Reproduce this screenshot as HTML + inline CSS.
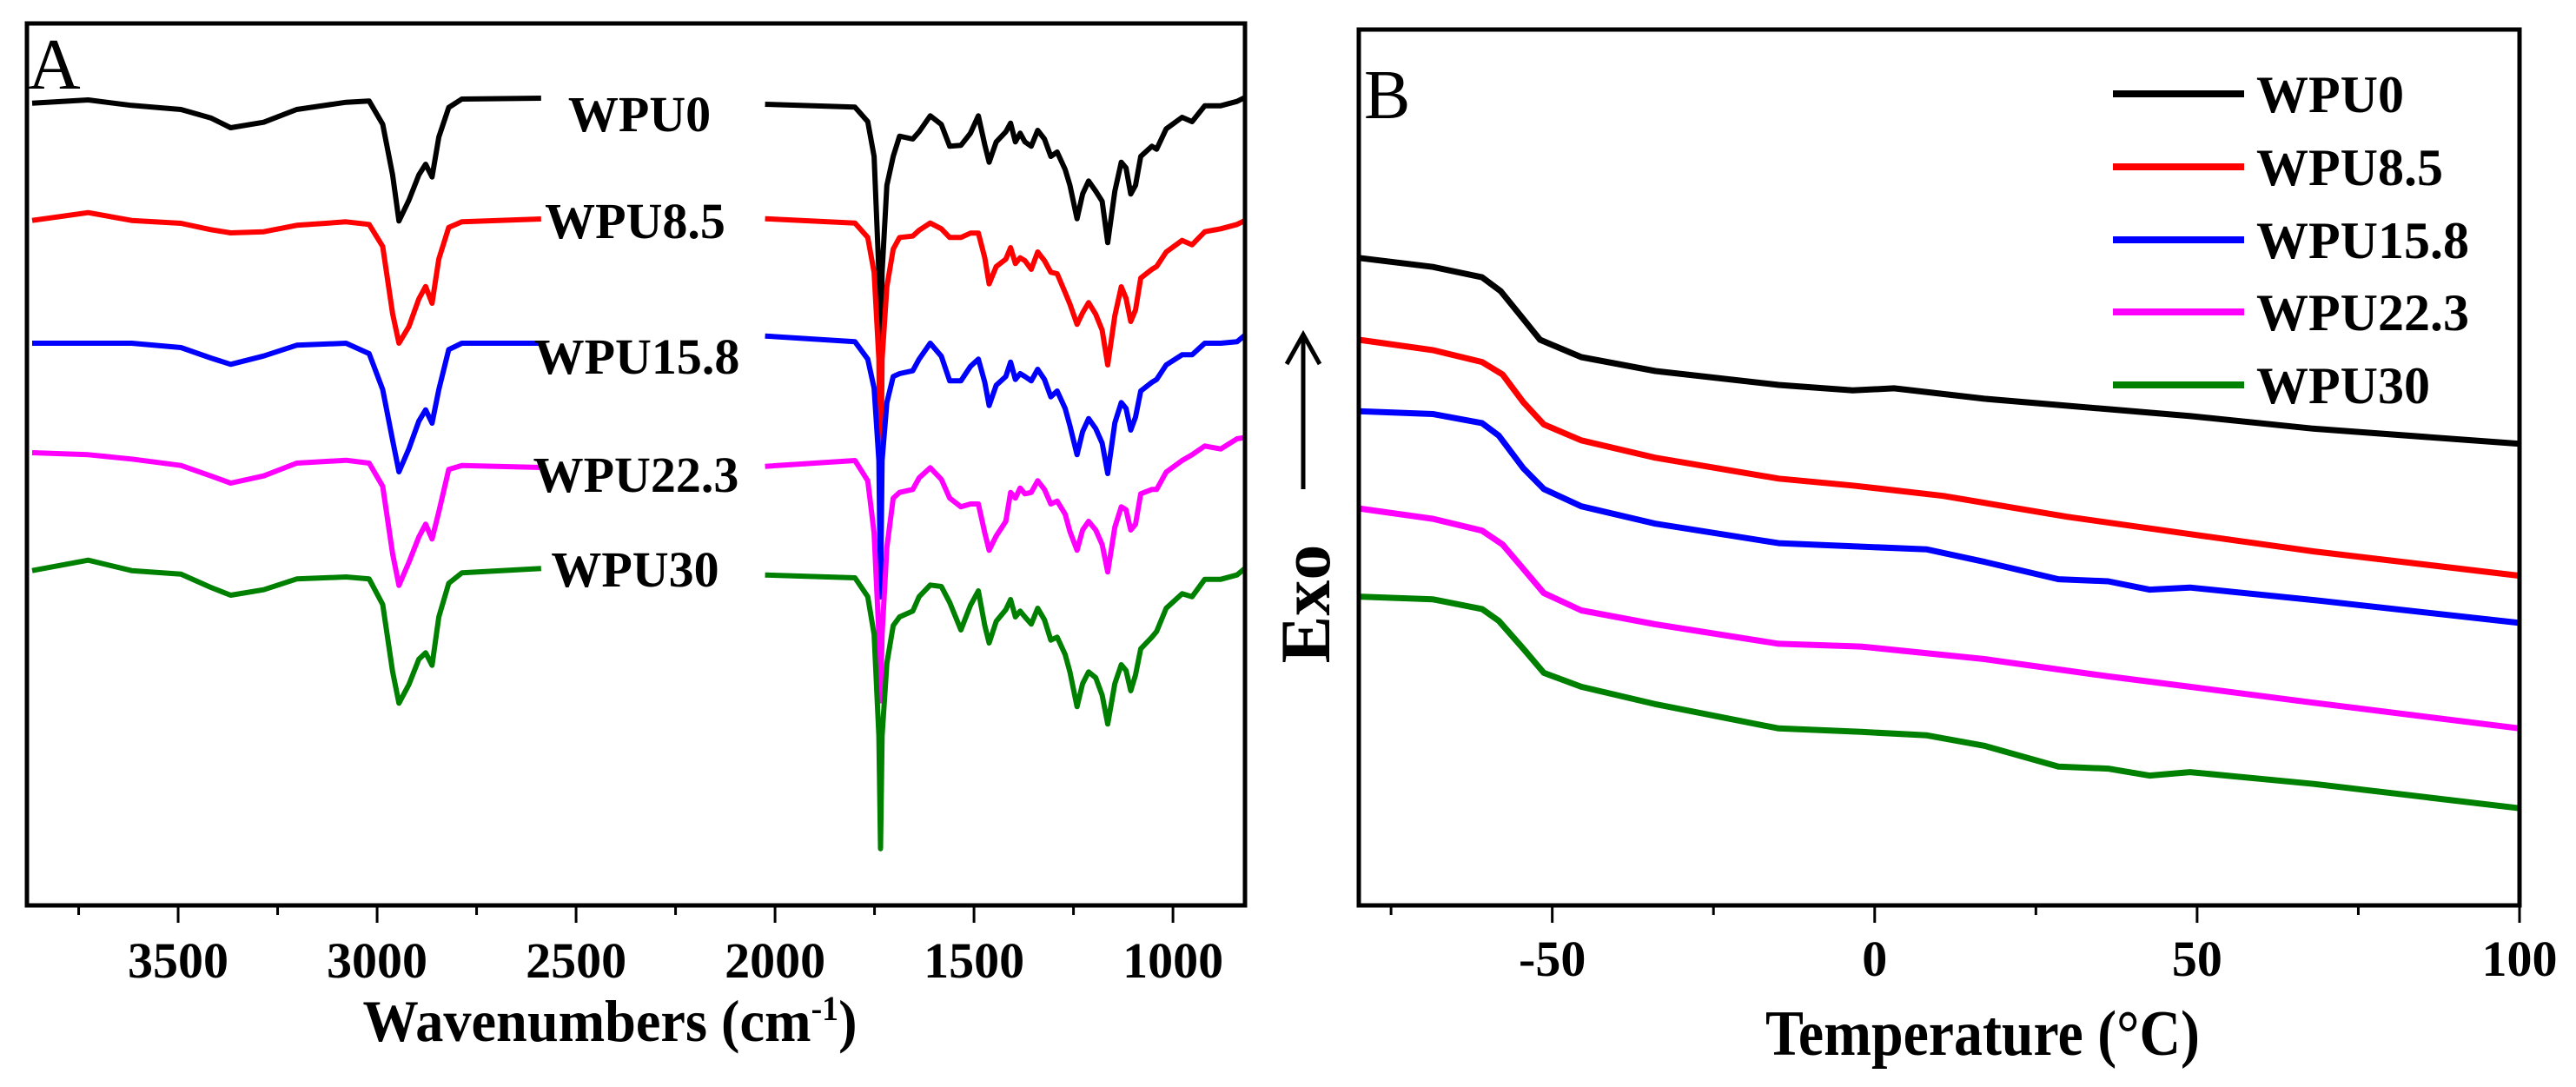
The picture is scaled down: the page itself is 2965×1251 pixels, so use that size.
<!DOCTYPE html>
<html><head><meta charset="utf-8"><style>
html,body{margin:0;padding:0;background:#fff;}
svg{display:block;}
text{font-family:"Liberation Serif","DejaVu Serif",serif;}
</style></head><body>
<svg id="fig" width="2965" height="1251" viewBox="0 0 2965 1251" xmlns="http://www.w3.org/2000/svg">
<rect x="0" y="0" width="2965" height="1251" fill="#fff"/>
<g id="panelA"></g>
<g id="panelB"></g>
</svg>
<script>
// ===== Panel A data (FTIR) =====
const seriesNames = ["WPU0","WPU8.5","WPU15.8","WPU22.3","WPU30"];
const seriesColors = ["#000000","#ff0000","#0000ff","#ff00ff","#008000"];
const ftirLeftWn = [3867,3726,3617,3493,3418,3368,3285,3202,3078,3020,2986,2961,2945,2920,2895,2878,2862,2845,2820,2787,2588];
const ftirLeftWPU0 = [11.6,10.5,12.4,13.8,16.7,20.1,18.2,13.8,11.3,10.9,18.9,36.4,52.3,45.1,36.4,32.7,37.1,23.3,13.1,10.2,9.9];
const ftirLeftWPU85 = [52.1,49.4,52.1,53.1,55.3,56.4,56.0,53.8,52.6,53.5,61.1,84.3,94.5,88.7,79.2,74.9,80.7,65.4,54.5,52.6,51.6];
const ftirLeftWPU158 = [94.5,94.5,94.5,96.0,99.6,101.8,98.9,95.2,94.5,98.1,110.5,128.0,138.9,130.9,121.4,117.5,122.1,110.5,96.7,94.5,94.5];
const ftirLeftWPU223 = [132.3,133.0,134.5,136.7,140.3,142.8,140.3,135.9,134.9,135.9,143.9,167.2,178.1,170.1,161.4,157.0,162.1,152.7,138.1,136.7,137.4];
const ftirLeftWPU30 = [173.0,169.4,173.0,174.2,178.8,181.5,179.6,175.9,175.2,175.9,184.7,207.9,218.8,212.3,203.6,201.4,205.7,189.0,177.4,173.8,172.3];
const ftirRightWn = [2025,1799,1767,1751,1739,1735,1731,1719,1703,1687,1654,1638,1610,1582,1561,1533,1509,1489,1473,1462,1444,1420,1408,1396,1384,1372,1356,1340,1323,1307,1291,1271,1259,1241,1227,1212,1194,1178,1164,1146,1130,1118,1106,1094,1081,1053,1041,1017,977,952,920,880,839,817];
const ftirRightWPU0 = [12,13,18,30,70,110,70,40,30,23,24,21.5,16,19,26.5,26.2,22,16,26,32,25,21.5,18.5,25,22,25,26.5,21,24,30,28.5,34.5,40,51.5,43,38.5,42,45.5,59.8,42,32,34,43,40,30,26.5,27.5,20.5,16.5,18,12.5,12.5,11,9.5];
const ftirRightWPU85 = [51.5,53,58,70,100,153.3,100,75,62,58,57.5,55.5,53,55,58,58,56.5,56.5,65,74,68,65.5,61.5,67,65,66,69,63,66,70,70.5,77,81,88,84,80.5,84.5,90,102,85,75,79,87,83,72,69,68,63,59,60.5,56,55,53.5,52];
const ftirRightWPU158 = [92,94,100,110,135,182.1,135,115,106,105,104,100,94.5,99,107.5,107.5,102.5,100,108,116,109,106,101,107,105,106,107.5,103.5,107,113,111,117,123,133,125,120.5,124,129,139.5,122,115,117,124.5,120,111,108,107,102,98.5,98.5,94.5,94.5,94,91.5];
const ftirRightWPU223 = [137,135,142,160,195,218,195,165,148,146,145,141,137.5,141.5,148,151,150,150,160,166,161,156,146,148,144.5,146.5,146,142,145,150,149,153.5,159.5,166,159,156,159,164,173.5,158,151,152,159,157,146.5,145,145,139,135,133,130,131,127.5,127];
const ftirRightWPU30 = [174.5,175.5,182,195,230,269,230,205,192,189,187,182,178,178.5,184,193.5,185,180,192,198,190.5,186.5,183,189,187,189,191.5,186,190,197,196,202,208,220,212,208,210,216,226,212,205.5,207.5,214.5,209,200,196,194,186,181,182,176,176,174.5,172];
const ftirTicks = [3500,3000,2500,2000,1500,1000];
const ftirMinorTicks = [3750,3250,2750,2250,1750,1250];

// ===== Panel B data (DSC) =====
const dscT_A = [-80,-68.5,-60.9,-58,-54.5,-51.9,-45.5,-34,-14.9,-3.4,3,17,36.2,49,68,100];
const dscWPU0 = [93.3,92,90.5,88.5,84.5,81.5,79,77,75,74.2,74.5,73,71.5,70.5,68.7,66.5];
const dscT_B = [-80,-68.5,-60.9,-57.7,-54.5,-51.3,-45.5,-34,-14.9,-3.4,10.6,29.8,48.9,68.1,100];
const dscWPU85 = [81.5,80,78.3,76.5,72.5,69.3,67,64.5,61.5,60.5,59,56,53.5,51,47.5];
const dscT_C = [-80,-68.5,-60.9,-58.3,-54.5,-51.3,-45.5,-34,-14.9,-2.1,8.1,17,28.5,36.2,42.6,48.9,68.1,100];
const dscWPU158 = [71.2,70.8,69.5,67.7,63,60,57.5,55,52.2,51.7,51.3,49.5,47,46.7,45.5,45.8,44,40.7];
const dscT_D = [-80,-68.5,-60.9,-57.7,-54.5,-51.3,-45.5,-34,-14.9,-2.1,17,36.2,48.9,68.1,100];
const dscWPU223 = [57.2,55.7,54,52,48.5,45,42.5,40.5,37.7,37.3,35.5,33,31.5,29.2,25.5];
const dscWPU30 = [44.5,44.1,42.7,41,37,33.5,31.5,29,25.5,25,24.5,23,20,19.7,18.7,19.2,17.5,14];
const dscTicks = [-50,0,50,100];
const dscMinorTicks = [-75,-25,25,75];

const NS = "http://www.w3.org/2000/svg";
function mk(parent, tag, attrs, txt){
  const e = document.createElementNS(NS, tag);
  for (const k in attrs) e.setAttribute(k, attrs[k]);
  if (txt !== undefined) e.textContent = txt;
  parent.appendChild(e);
  return e;
}

// ---------- Panel A ----------
const A = {l:31, t:27, r:1433, b:1042};
const wnLeftEdge = 3880, wnRightEdge = 819;
const vMinA = -15.9, vMaxA = 288.6;
function xA(w){ return A.l + (wnLeftEdge - w)/(wnLeftEdge - wnRightEdge)*(A.r - A.l); }
function yA(v){ return A.t + (v - vMinA)/(vMaxA - vMinA)*(A.b - A.t); }
const gA = document.getElementById('panelA');

const leftSets = [ftirLeftWPU0, ftirLeftWPU85, ftirLeftWPU158, ftirLeftWPU223, ftirLeftWPU30];
const rightSets = [ftirRightWPU0, ftirRightWPU85, ftirRightWPU158, ftirRightWPU223, ftirRightWPU30];
for (let s = 0; s < 5; s++){
  let d1 = ftirLeftWn.map((w,i)=>(i?'L':'M')+xA(w).toFixed(1)+' '+yA(leftSets[s][i]).toFixed(1)).join(' ');
  const p1 = mk(gA,'path',{d:d1, fill:'none', stroke:seriesColors[s], 'stroke-width':6, 'stroke-linejoin':'round'});
  
  
}
for (let s = 0; s < 5; s++){
  let d2 = ftirRightWn.map((w,i)=>(i?'L':'M')+xA(w).toFixed(1)+' '+yA(rightSets[s][i]).toFixed(1)).join(' ');
  const p2 = mk(gA,'path',{d:d2, fill:'none', stroke:seriesColors[s], 'stroke-width':6, 'stroke-linejoin':'round'});
  
  
}
const aLabelX = [736,731,733,732,731];
const aLabelY = [151,274,430,566,675];
for (let s = 0; s < 5; s++){
  const t = mk(gA,'text',{x:aLabelX[s], y:aLabelY[s], 'text-anchor':'middle', 'font-size':58, 'font-weight':'bold', fill:'#000'}, seriesNames[s]);
  
  
}
const frA = mk(gA,'rect',{x:A.l, y:A.t, width:A.r-A.l, height:A.b-A.t, fill:'none', stroke:'#000', 'stroke-width':5});


ftirTicks.forEach(w=>{
  const tk = mk(gA,'line',{x1:xA(w), y1:A.b, x2:xA(w), y2:A.b+20, stroke:'#000', 'stroke-width':3});
  
  
  const tl = mk(gA,'text',{x:xA(w), y:1125, 'text-anchor':'middle', 'font-size':58, 'font-weight':'bold'}, String(w));
  
  
});
ftirMinorTicks.forEach(w=>{
  const tk = mk(gA,'line',{x1:xA(w), y1:A.b, x2:xA(w), y2:A.b+11, stroke:'#000', 'stroke-width':3});
  
  
});
const xtA = mk(gA,'text',{x:702, y:1198, 'text-anchor':'middle', 'font-size':68, 'font-weight':'bold', textLength:569, lengthAdjust:'spacingAndGlyphs'});
xtA.innerHTML = 'Wavenumbers (cm<tspan dy="-24" font-size="40">-1</tspan><tspan dy="24">)</tspan>';


const lblA = mk(gA,'text',{x:32, y:102, 'font-size':84}, 'A');



// ---------- Panel B ----------
const B = {l:1564, t:34, r:2900, b:1042};
const tMin = -80, tMax = 100, vMaxB = 126.2;
function xB(T){ return B.l + (T - tMin)/(tMax - tMin)*(B.r - B.l); }
function yB(v){ return B.b - v/vMaxB*(B.b - B.t); }
const gB = document.getElementById('panelB');
const dscX = [dscT_A, dscT_B, dscT_C, dscT_D, dscT_C];
const dscY = [dscWPU0, dscWPU85, dscWPU158, dscWPU223, dscWPU30];
for (let s = 0; s < 5; s++){
  const d = dscX[s].map((T,i)=>(i?'L':'M')+xB(T).toFixed(1)+' '+yB(dscY[s][i]).toFixed(1)).join(' ');
  const p = mk(gB,'path',{d:d, fill:'none', stroke:seriesColors[s], 'stroke-width':7, 'stroke-linejoin':'round'});
  
  
}
const frB = mk(gB,'rect',{x:B.l, y:B.t, width:B.r-B.l, height:B.b-B.t, fill:'none', stroke:'#000', 'stroke-width':5});


dscTicks.forEach(T=>{
  const tk = mk(gB,'line',{x1:xB(T), y1:B.b, x2:xB(T), y2:B.b+20, stroke:'#000', 'stroke-width':3});
  
  
  const tl = mk(gB,'text',{x:xB(T), y:1123, 'text-anchor':'middle', 'font-size':58, 'font-weight':'bold'}, String(T));
  
  
});
dscMinorTicks.forEach(T=>{
  const tk = mk(gB,'line',{x1:xB(T), y1:B.b, x2:xB(T), y2:B.b+11, stroke:'#000', 'stroke-width':3});
  
  
});
const xtB = mk(gB,'text',{x:2282, y:1214, 'text-anchor':'middle', 'font-size':74, 'font-weight':'bold', textLength:500, lengthAdjust:'spacingAndGlyphs'}, 'Temperature (°C)');


const lblB = mk(gB,'text',{x:1570, y:136, 'font-size':80}, 'B');


const exo = mk(gB,'text',{x:0, y:0, 'text-anchor':'middle', 'font-size':82, 'font-weight':'bold', transform:'translate(1530,695) rotate(-90)'}, 'Exo');


const arr = mk(gB,'path',{d:'M1500 563 L1500 385 M1481 419 L1500 385 L1519 419', fill:'none', stroke:'#000', 'stroke-width':5});


const legY = [108,192,276,359,443];
for (let s = 0; s < 5; s++){
  const ln = mk(gB,'line',{x1:2432, y1:legY[s], x2:2583, y2:legY[s], stroke:seriesColors[s], 'stroke-width':8});
  
  
  const tx = mk(gB,'text',{x:2597, y:legY[s]+21, 'font-size':60, 'font-weight':'bold'}, seriesNames[s]);
  
  
}
</script>
</body></html>
